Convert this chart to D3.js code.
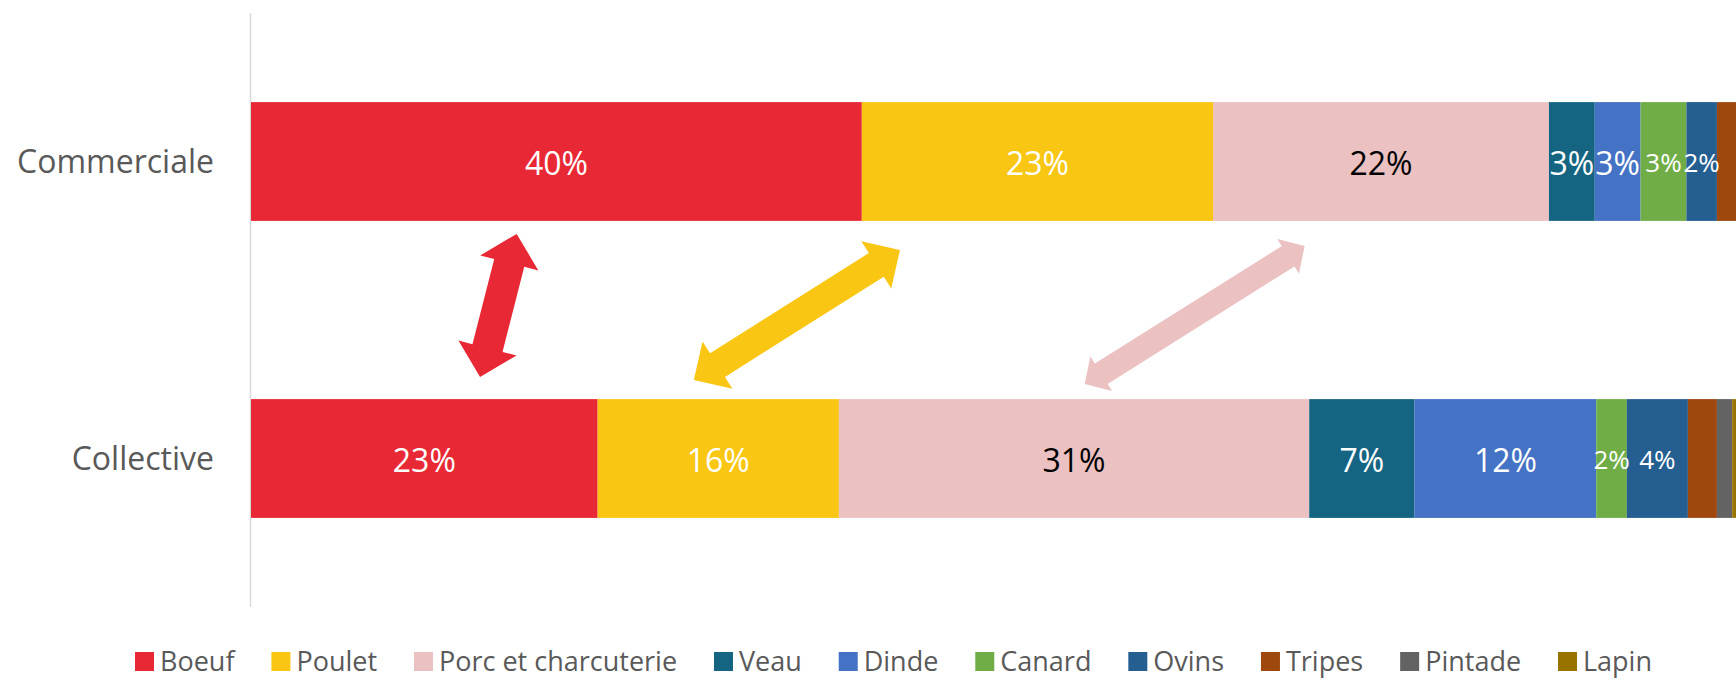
<!DOCTYPE html>
<html>
<head>
<meta charset="utf-8">
<script src="https://cdn.jsdelivr.net/npm/d3@7"></script>
<style>
    body { margin: 0; background: #fff; overflow: hidden; }
    #chart-area { width: 1736px; height: 680px; }
</style>
</head>
<body>
<div id="chart-area"></div>
<script>
// bars, top to bottom
const categories = ["Commerciale", "Collective"];
const species = ["Boeuf", "Poulet", "Porc et charcuterie", "Veau", "Dinde", "Canard", "Ovins", "Tripes", "Pintade", "Lapin"];
const speciesColors = ["#E82834", "#F9C614", "#EBC1C2", "#156582", "#4472C4", "#70AD47", "#255E91", "#9E480E", "#636363", "#997300"];
// share of each species (%), same order as species
const commercialeValues = [40.0, 23.0, 22.0, 3.0, 3.0, 3.0, 2.0, 2.0, 1.0, 1.0];
const collectiveValues = [22.7, 15.8, 30.8, 6.9, 11.9, 2.0, 4.0, 1.9, 1.0, 2.9];
// which segments carry a label
const labelledSpecies = ["Boeuf", "Poulet", "Porc et charcuterie", "Veau", "Dinde", "Canard", "Ovins"];
const smallLabelSpecies = ["Canard", "Ovins"];
const darkLabelSpecies = ["Porc et charcuterie"];
// double arrows between the two bars: share (%) at the upper tip and at the lower tip
const arrowSpecies = ["Boeuf", "Poulet", "Porc et charcuterie"];
const arrowTopShare = [17.4, 42.5, 69.0];
const arrowBottomShare = [15.0, 29.0, 54.6];

class StackedShareChart {
    constructor(parentElement) {
        this.parentElement = parentElement;
        this.initVis();
    }

    initVis() {
        let vis = this;
        vis.width = 1736;
        vis.height = 680;
        // plot runs past the right edge, like the cropped original
        vis.margin = {top: 13, left: 251};
        vis.plotWidth = 1527;
        vis.plotHeight = 594;

        vis.svg = d3.select("#" + vis.parentElement).append("svg")
            .attr("width", vis.width)
            .attr("height", vis.height)
            .style("font-family", "'Open Sans', sans-serif");

        vis.x = d3.scaleLinear().domain([0, 100])
            .range([vis.margin.left, vis.margin.left + vis.plotWidth]);
        vis.y = d3.scaleBand().domain(categories)
            .range([vis.margin.top, vis.margin.top + vis.plotHeight])
            .paddingInner(0.6).paddingOuter(0.3);
        vis.color = d3.scaleOrdinal().domain(species).range(speciesColors);

        vis.wrangleData();
    }

    wrangleData() {
        let vis = this;
        let valuesByCategory = [commercialeValues, collectiveValues];
        vis.rows = categories.map((c, i) => {
            let row = {category: c};
            species.forEach((s, j) => row[s] = valuesByCategory[i][j]);
            return row;
        });
        vis.series = d3.stack().keys(species)(vis.rows);
        vis.updateVis();
    }

    updateVis() {
        let vis = this;

        // vertical axis line
        vis.svg.append("line")
            .attr("x1", vis.x(0) - 0.5).attr("x2", vis.x(0) - 0.5)
            .attr("y1", vis.margin.top).attr("y2", vis.margin.top + vis.plotHeight)
            .attr("stroke", "#D9D9D9").attr("stroke-width", 1.5);

        // category labels
        vis.svg.selectAll(".cat-label")
            .data(categories)
            .enter().append("text")
            .attr("class", "cat-label")
            .attr("x", vis.x(0) - 37)
            .attr("y", d => vis.y(d) + vis.y.bandwidth() / 2)
            .attr("dy", "0.36em")
            .attr("text-anchor", "end")
            .style("font-size", "32px")
            .style("fill", "#595959")
            .text(d => d);

        // stacked segments
        let groups = vis.svg.selectAll(".series")
            .data(vis.series)
            .enter().append("g")
            .attr("class", "series")
            .attr("fill", d => vis.color(d.key));

        groups.selectAll("rect")
            .data(d => d.map(p => ({key: d.key, p: p})))
            .enter().append("rect")
            .attr("x", d => vis.x(d.p[0]))
            .attr("y", d => vis.y(d.p.data.category))
            .attr("width", d => vis.x(d.p[1]) - vis.x(d.p[0]))
            .attr("height", vis.y.bandwidth());

        // data labels
        let labelData = [];
        vis.series.forEach(s => {
            if (!labelledSpecies.includes(s.key)) return;
            s.forEach(p => labelData.push({key: s.key, p: p}));
        });

        vis.svg.selectAll(".value-label")
            .data(labelData)
            .enter().append("text")
            .attr("class", "value-label")
            .attr("x", d => (vis.x(d.p[0]) + vis.x(d.p[1])) / 2)
            .attr("y", d => vis.y(d.p.data.category) + vis.y.bandwidth() / 2)
            .attr("dy", "0.41em")
            .attr("text-anchor", "middle")
            .style("font-size", d => smallLabelSpecies.includes(d.key) ? "26px" : "32px")
            .style("fill", d => darkLabelSpecies.includes(d.key) ? "#000" : "#fff")
            .text(d => Math.round(d.p[1] - d.p[0]) + "%");

        vis.drawArrows();
        vis.drawLegend();
    }

    drawArrows() {
        let vis = this;
        // gaps to the bars and shape sizes for each arrow
        let arrowStyle = {
            "Boeuf": {gapTop: 13, gapBottom: 22, shaft: 15.5, head: 30, len: 30},
            "Poulet": {gapTop: 29, gapBottom: 19, shaft: 14, head: 28, len: 28},
            "Porc et charcuterie": {gapTop: 25, gapBottom: 15, shaft: 12, head: 20.5, len: 19.5}
        };
        let topBar = vis.y(categories[0]) + vis.y.bandwidth();
        let bottomBar = vis.y(categories[1]);

        arrowSpecies.forEach((s, i) => {
            let st = arrowStyle[s];
            let a = [vis.x(arrowTopShare[i]), topBar + st.gapTop];
            let b = [vis.x(arrowBottomShare[i]), bottomBar - st.gapBottom];
            let len = Math.hypot(a[0] - b[0], a[1] - b[1]);
            let u = [(a[0] - b[0]) / len, (a[1] - b[1]) / len];
            let n = [-u[1], u[0]];
            let pt = (base, along, side) => [base[0] + along * u[0] + side * n[0], base[1] + along * u[1] + side * n[1]];
            let pts = [
                a,
                pt(a, -st.len, st.head), pt(a, -st.len, st.shaft),
                pt(b, st.len, st.shaft), pt(b, st.len, st.head),
                b,
                pt(b, st.len, -st.head), pt(b, st.len, -st.shaft),
                pt(a, -st.len, -st.shaft), pt(a, -st.len, -st.head)
            ];
            vis.svg.append("polygon")
                .attr("points", pts.map(p => p.join(",")).join(" "))
                .attr("fill", vis.color(s));
        });
    }

    drawLegend() {
        let vis = this;
        let legendLeft = 135, legendRight = 1652, baseline = 671, box = 19, textGap = 6;

        let legend = vis.svg.append("g").attr("class", "legend");
        let items = legend.selectAll(".legend-item")
            .data(species)
            .enter().append("g")
            .attr("class", "legend-item");

        items.append("rect")
            .attr("x", 0).attr("y", baseline - box)
            .attr("width", box).attr("height", box)
            .attr("fill", d => vis.color(d));

        items.append("text")
            .attr("x", box + textGap)
            .attr("y", baseline)
            .style("font-size", "27px")
            .style("fill", "#595959")
            .text(d => d);

        let widths = [];
        items.select("text").each(function() { widths.push(this.getComputedTextLength()); });
        let total = d3.sum(widths) + species.length * (box + textGap);
        let gap = (legendRight - legendLeft - total) / (species.length - 1);
        let xPos = legendLeft;
        items.attr("transform", (d, i) => {
            let t = "translate(" + xPos + ",0)";
            xPos += box + textGap + widths[i] + gap;
            return t;
        });
    }
}

new StackedShareChart("chart-area");
</script>
</body>
</html>
